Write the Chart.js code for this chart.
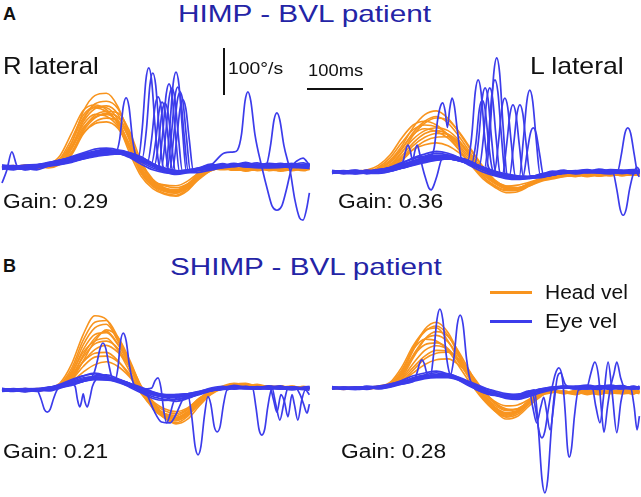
<!DOCTYPE html>
<html>
<head>
<meta charset="utf-8">
<script src="https://cdn.jsdelivr.net/npm/chart.js@4.4.0/dist/chart.umd.min.js"></script>
<style>
  html, body { margin: 0; padding: 0; background: #fff; }
  #fig { position: relative; width: 641px; height: 497px; overflow: hidden;
         font-family: "Liberation Sans", Arial, Helvetica, sans-serif; }
  #fig canvas { position: absolute; }
  .t { position: absolute; line-height: 1; white-space: nowrap; color: #111; transform-origin: 0 0; }
  .title { font-size: 24px; color: #2424a6; }
  .side { font-size: 24px; }
  .gain { font-size: 20px; transform: scaleX(1.14); }
  .scale { font-size: 17px; }
  .tag { font-size: 18px; font-weight: bold; }
  .bar { position: absolute; background: #111; }
  .key { position: absolute; height: 3px; width: 42px; }
</style>
</head>
<body>
<div id="fig">
  <canvas id="cTL" width="318" height="200" style="left:0px;top:40px"></canvas>
  <canvas id="cTR" width="315" height="200" style="left:326px;top:40px"></canvas>
  <canvas id="cBL" width="318" height="217" style="left:0px;top:280px"></canvas>
  <canvas id="cBR" width="315" height="217" style="left:326px;top:280px"></canvas>

  <div class="t tag" style="left:3px;top:5px">A</div>
  <div class="t title" style="left:178px;top:2px;transform:scaleX(1.24)">HIMP - BVL patient</div>
  <div class="t side" style="left:3px;top:54px;transform:scaleX(1.07)">R lateral</div>
  <div class="t side" style="left:530px;top:54px;transform:scaleX(1.11)">L lateral</div>
  <div class="t scale" style="left:228px;top:60px;transform:scaleX(1.14)">100°/s</div>
  <div class="t scale" style="left:308px;top:62px;transform:scaleX(1.08)">100ms</div>
  <div class="bar" style="left:223px;top:48px;width:2px;height:47px"></div>
  <div class="bar" style="left:307px;top:88px;width:56px;height:2px"></div>
  <div class="t gain" style="left:3px;top:191px">Gain: 0.29</div>
  <div class="t gain" style="left:338px;top:191px">Gain: 0.36</div>

  <div class="t tag" style="left:3px;top:257px">B</div>
  <div class="t title" style="left:170px;top:255px;transform:scaleX(1.235)">SHIMP - BVL patient</div>
  <div class="key" style="left:490px;top:291px;background:rgb(248,148,30)"></div>
  <div class="t gain" style="left:545px;top:282px;transform:scaleX(1.05)">Head vel</div>
  <div class="key" style="left:490px;top:320px;background:rgb(60,60,235)"></div>
  <div class="t gain" style="left:545px;top:311px;transform:scaleX(1.1)">Eye vel</div>
  <div class="t gain" style="left:3px;top:441px">Gain: 0.21</div>
  <div class="t gain" style="left:341px;top:441px">Gain: 0.28</div>
</div>

<script>
// time grid (ms) for the smooth traces
const tGrid = [0,20,40,60,80,100,120,140,160,180,200,220,240,260,280,300,320,340,360,380,400,420,440,460,480,500,520,530];

// head velocity (deg/s), one row per impulse
const headTL = [
  [2,-2,3,1,2,12,50,118,152,157,128,62,-12,-40,-52,-56,-40,-10,-2,3,-4,0,-5,-2,-6,-3,-5,-2],
  [-3,1,-1,4,0,8,40,100,134,140,124,70,0,-34,-48,-55,-44,-18,-4,-1,-7,-3,2,-8,-4,-1,-7,-4],
  [0,3,-2,2,5,18,60,110,128,126,100,40,-14,-42,-56,-60,-46,-20,-6,-2,-3,-9,-4,-1,-9,-5,-2,-6],
  [1,-1,2,-3,1,6,30,80,110,118,115,76,12,-26,-44,-50,-46,-26,-8,-3,-6,-2,-8,-4,0,-6,-3,-1],
  [-2,0,4,0,3,10,38,84,106,112,96,48,-4,-32,-45,-48,-38,-16,-5,0,-5,-6,-1,-7,-3,-8,-4,-5],
  [3,-3,0,2,-2,5,26,70,96,104,98,60,6,-28,-40,-44,-36,-18,-6,-4,-1,-5,-7,-3,-6,-2,-6,-3],
  [0,2,-1,-2,2,9,32,72,92,96,82,40,-6,-30,-38,-40,-30,-12,-3,-6,-4,-8,-3,-5,-1,-4,-8,-4],
  [-1,1,2,3,6,24,72,120,132,122,90,30,-20,-46,-58,-62,-50,-24,-8,-2,-7,-4,-2,-6,-8,-3,-1,-5],
  [1,-2,0,2,3,14,44,96,124,130,112,56,-8,-36,-50,-54,-42,-16,-4,1,-6,-3,-7,-1,-5,-2,-6,-3],
  [-2,2,1,-1,4,16,52,104,126,118,94,44,-10,-38,-50,-52,-40,-14,-2,-4,-3,-7,-2,-6,-4,-1,-5,-2],
  [0,-1,3,1,2,7,28,76,104,114,106,64,4,-30,-46,-50,-42,-22,-6,-1,-5,-2,-6,-3,-7,-4,-2,-5],
  [2,0,-2,1,5,13,42,90,112,108,86,38,-10,-36,-48,-50,-36,-14,-3,-2,-6,-4,-1,-5,-2,-6,-3,-4]
];
const headTR = [
  [0,-3,2,-1,8,25,55,95,122,130,114,82,45,10,-20,-35,-38,-30,-20,-15,-10,-8,-6,-9,-5,-8,-4,-6],
  [-2,1,-1,3,4,15,40,78,104,115,110,84,48,12,-16,-32,-36,-28,-18,-12,-9,-6,-10,-5,-7,-3,-6,-4],
  [1,-1,3,0,10,30,62,90,100,96,80,52,20,-10,-30,-40,-38,-26,-16,-12,-6,-10,-4,-8,-6,-2,-7,-5],
  [-1,2,0,-2,3,12,34,62,82,88,80,56,26,-4,-24,-34,-34,-24,-16,-10,-8,-5,-9,-4,-8,-5,-3,-6],
  [2,0,-2,1,2,8,24,48,66,74,75,60,34,6,-18,-30,-33,-26,-18,-12,-6,-9,-5,-7,-3,-8,-5,-4],
  [0,2,1,-1,5,14,30,48,58,62,56,40,18,-6,-22,-30,-28,-22,-14,-9,-7,-4,-8,-6,-4,-7,-2,-5],
  [-2,-1,2,4,14,36,72,100,108,100,78,46,14,-14,-32,-44,-42,-30,-18,-12,-8,-6,-4,-8,-5,-6,-3,-7],
  [1,0,-2,2,6,20,48,84,108,118,104,74,38,4,-22,-36,-38,-28,-18,-12,-8,-5,-9,-6,-4,-7,-5,-3],
  [-1,2,0,-1,4,16,42,70,88,94,88,66,34,2,-20,-32,-34,-26,-16,-10,-7,-9,-4,-6,-8,-3,-6,-5],
  [0,-2,1,3,7,22,50,80,92,86,72,46,16,-10,-28,-38,-36,-26,-14,-11,-5,-8,-6,-3,-7,-6,-4,-8],
  [2,-1,-1,0,3,10,28,56,74,82,80,62,30,0,-22,-34,-36,-26,-16,-10,-9,-6,-5,-8,-6,-4,-7,-3]
];
const headBL = [
  [1,-2,3,0,4,15,55,118,158,150,106,58,4,-40,-58,-62,-48,-22,-2,8,14,10,6,8,4,6,2,4],
  [-2,2,-1,3,2,10,40,96,132,140,104,56,6,-34,-60,-70,-56,-28,-6,6,12,14,8,5,9,3,6,2],
  [0,-1,2,-2,5,8,28,74,110,125,98,60,8,-28,-52,-64,-54,-30,-8,4,10,8,12,6,3,8,4,5],
  [2,0,-3,1,3,12,36,80,104,110,84,40,-6,-38,-56,-60,-46,-20,-4,6,9,12,5,9,6,2,7,3],
  [-1,1,2,-2,1,8,26,60,86,95,80,50,2,-30,-50,-58,-48,-24,-6,2,8,10,7,4,8,5,2,6],
  [1,-2,0,2,4,10,30,60,78,80,62,30,-8,-34,-50,-54,-42,-18,-3,5,11,7,9,3,6,8,4,2],
  [0,2,-1,1,2,6,18,38,54,60,50,28,-2,-24,-40,-46,-38,-18,-4,4,8,12,6,8,3,5,7,3],
  [-2,0,1,-1,3,6,22,62,104,128,112,64,8,-24,-56,-72,-62,-34,-10,3,10,6,10,7,5,2,8,4],
  [0,1,-2,2,3,12,46,106,144,148,112,60,4,-36,-58,-66,-52,-24,-4,5,12,8,10,6,7,4,5,3],
  [-1,2,0,-1,2,9,34,86,118,122,96,52,0,-34,-54,-62,-50,-26,-6,3,9,11,6,8,4,7,3,5],
  [1,-1,2,0,3,10,30,70,98,104,88,48,-2,-34,-52,-58,-46,-22,-4,4,10,6,9,5,8,3,6,4],
  [0,1,1,-2,2,7,22,50,70,72,60,34,-4,-28,-44,-50,-40,-18,-2,5,9,10,7,5,6,8,3,4]
];
const headBR = [
  [0,-3,2,-1,1,6,30,80,125,140,118,70,24,-16,-44,-58,-48,-26,-10,-6,-12,-8,-14,-9,-6,-12,-10,-8],
  [-2,1,-1,2,0,4,22,64,104,120,110,74,30,-10,-40,-56,-52,-32,-14,-8,-10,-14,-7,-12,-9,-5,-11,-7],
  [1,0,2,-2,3,10,38,82,104,100,80,44,8,-24,-48,-62,-56,-34,-16,-10,-6,-12,-9,-4,-10,-8,-13,-6],
  [-1,2,-2,0,-1,5,20,52,80,90,82,56,22,-12,-36,-48,-44,-28,-12,-4,-9,-6,-11,-8,-12,-6,-4,-9],
  [0,-1,1,2,1,3,14,38,62,74,76,60,30,-4,-30,-44,-46,-30,-14,-8,-12,-5,-8,-14,-7,-10,-6,-11],
  [2,0,-1,1,4,12,44,90,122,128,100,56,14,-22,-48,-66,-60,-38,-18,-6,-10,-8,-5,-10,-7,-3,-9,-12],
  [-2,1,0,-1,2,4,14,32,50,60,62,48,22,-6,-28,-38,-36,-24,-10,-6,-8,-11,-5,-9,-6,-10,-8,-4],
  [1,-2,1,0,2,8,34,86,120,132,112,66,20,-18,-46,-60,-52,-30,-12,-8,-9,-12,-6,-10,-8,-11,-7,-9],
  [-1,0,2,-1,1,6,26,70,104,112,98,64,24,-12,-40,-54,-50,-30,-14,-6,-11,-7,-10,-13,-6,-9,-12,-7],
  [0,1,-1,1,3,8,30,68,92,96,84,52,16,-16,-40,-52,-48,-28,-12,-7,-10,-9,-12,-6,-11,-8,-5,-10],
  [2,-1,0,-2,1,4,18,44,68,80,78,58,26,-8,-32,-46,-44,-28,-12,-6,-9,-13,-8,-5,-10,-12,-8,-6]
];

// eye velocity (deg/s), impulses without catch-up saccades
const eyeTL = [
  [0,3,-4,2,6,10,18,26,32,36,34,28,18,4,-8,-12,-8,-2,4,2,6,0,5,3,8,2,6,4],
  [-3,-6,0,-2,3,8,14,22,28,30,32,26,14,2,-6,-14,-10,-4,2,7,1,4,9,1,4,7,0,5],
  [2,-2,-5,4,8,14,22,30,38,40,36,22,10,-2,-10,-16,-12,-6,0,5,3,8,2,6,0,5,9,2],
  [-5,0,-3,-6,2,6,12,18,24,26,28,24,16,6,-4,-8,-10,-6,0,3,8,2,4,8,5,1,4,6],
  [1,-4,2,0,4,12,20,28,34,38,30,20,6,-6,-12,-14,-8,-2,6,1,4,10,3,0,6,3,2,8]
];
const eyeTR = [
  [0,3,-2,4,0,6,14,24,32,36,34,28,18,8,-2,-6,-10,-12,-8,-4,0,3,-2,4,1,-3,2,0],
  [-3,1,4,-2,2,4,10,18,26,30,32,28,20,10,0,-8,-14,-14,-10,-6,-2,2,5,-1,3,0,-4,3],
  [2,-4,0,3,-1,8,18,30,38,44,40,30,16,4,-6,-10,-12,-10,-6,2,-3,0,4,-2,-4,2,5,-1],
  [-1,2,-3,0,4,2,8,16,22,26,28,24,18,10,2,-4,-8,-10,-12,-6,-1,-4,0,6,2,-2,1,4],
  [1,-1,2,-4,3,10,20,28,34,40,36,26,12,0,-8,-14,-16,-12,-4,0,4,-3,2,0,5,3,-2,-3]
];
const eyeBL = [
  [0,-3,2,-1,4,10,18,26,28,24,16,8,-2,-10,-14,-16,-12,-6,0,4,6,3,7,5,2,6,4,3],
  [3,0,-4,2,0,6,14,22,30,32,24,14,4,-6,-16,-20,-16,-10,-2,6,8,4,2,8,5,0,6,8],
  [-2,2,0,-3,2,8,20,30,36,30,20,10,-4,-14,-20,-24,-18,-8,2,4,10,6,4,2,7,4,1,5],
  [1,-2,3,0,-2,4,12,18,24,26,22,14,6,-4,-10,-12,-10,-4,4,8,2,7,5,9,3,6,2,-1],
  [0,3,-1,2,5,12,22,30,34,28,18,6,-6,-18,-22,-20,-14,-6,0,2,5,8,3,6,9,2,5,7]
];
const eyeBR = [
  [0,2,-3,1,0,4,10,18,24,28,26,18,8,-2,-10,-16,-18,-12,-6,0,3,-2,4,1,-3,2,0,3],
  [-2,1,2,-1,3,6,12,22,28,32,28,20,10,-2,-12,-20,-22,-16,-8,-2,2,4,0,-3,3,5,-1,2],
  [1,-3,0,2,-2,2,8,14,20,22,22,16,8,0,-6,-12,-14,-10,-4,2,-1,3,6,2,0,-2,4,1],
  [3,0,-2,4,1,8,16,26,32,36,30,22,12,2,-8,-18,-20,-14,-4,1,4,0,-2,5,2,-1,3,-2],
  [-1,2,1,-3,2,3,10,16,22,26,24,18,6,-4,-14,-22,-24,-18,-10,-4,0,2,-1,3,6,1,-2,4]
];

// eye velocity with catch-up saccades, [ms, deg/s] pairs
const saccTL = [
  [[0,-2],[40,3],[80,6],[120,14],[160,28],[185,34],[196,32],[203,60],[209,128],[214,147],[219,128],[225,60],[232,20],[250,8],[280,-8],[320,-8],[370,2],[430,5],[490,0],[530,4]],
  [[0,2],[40,-4],[80,8],[120,16],[160,26],[200,30],[225,22],[235,18],[242,85],[248,184],[253,211],[258,184],[264,85],[271,4],[290,-10],[330,-4],[390,3],[450,6],[500,-1],[530,2]],
  [[0,-4],[40,0],[80,10],[120,20],[160,32],[200,36],[230,26],[242,20],[249,80],[255,174],[260,200],[265,174],[271,80],[278,0],[300,-12],[340,-6],[400,4],[460,0],[530,5]],
  [[0,4],[40,1],[80,4],[120,12],[160,22],[200,28],[235,16],[251,10],[258,60],[264,130],[269,149],[274,130],[280,60],[287,-4],[310,-10],[360,0],[420,6],[480,2],[530,-2]],
  [[0,-1],[40,-5],[80,6],[120,18],[160,28],[200,30],[240,18],[258,8],[265,55],[271,120],[276,138],[281,120],[287,55],[294,-6],[320,-10],[370,2],[440,3],[500,7],[530,1]],
  [[0,3],[40,-2],[80,2],[120,10],[160,24],[200,32],[240,16],[263,4],[270,54],[276,118],[281,136],[286,118],[292,54],[299,-8],[330,-6],[380,4],[450,-2],[530,3]],
  [[0,-3],[40,2],[80,8],[120,18],[160,30],[200,34],[240,22],[270,0],[277,71],[283,154],[288,177],[293,154],[299,71],[306,-10],[330,-12],[380,-2],[440,4],[500,2],[530,6]],
  [[0,1],[40,-3],[80,5],[120,14],[160,26],[200,28],[240,16],[275,-2],[282,67],[288,146],[293,168],[298,146],[304,67],[311,-8],[340,-6],[400,2],[460,5],[530,0]],
  [[0,-2],[40,4],[80,7],[120,16],[160,28],[200,32],[240,20],[282,-4],[289,81],[295,176],[300,202],[305,176],[311,81],[318,-10],[350,-4],[410,3],[470,-1],[530,4]],
  [[0,2],[40,0],[80,4],[120,12],[160,24],[200,30],[240,18],[285,-4],[292,68],[298,148],[303,170],[308,148],[314,68],[321,-8],[350,-2],[420,5],[480,1],[530,-3]],
  [[0,0],[40,-4],[80,9],[120,20],[160,30],[200,34],[240,20],[289,-6],[296,64],[302,139],[307,160],[312,139],[318,64],[325,-10],[360,0],[420,2],[480,6],[530,2]],
  [[0,-3],[40,2],[80,6],[120,14],[160,26],[200,30],[240,16],[294,-6],[301,57],[307,124],[312,143],[317,124],[323,57],[330,-8],[360,-4],[420,4],[490,0],[530,3]],
  [[0,-34],[8,-8],[17,32],[26,2],[40,-6],[80,4],[120,14],[160,26],[200,30],[240,16],[280,-8],[320,-10],[360,4],[384,30],[400,32],[406,36],[413,70],[419,140],[424,160],[429,140],[436,70],[448,0],[458,-50],[466,-84],[474,-92],[482,-84],[490,-50],[500,0],[510,14],[519,19],[530,4]],
  [[0,3],[40,-2],[80,6],[120,16],[160,28],[200,32],[240,18],[280,-6],[320,-8],[360,2],[400,4],[440,2],[456,6],[463,46],[469,100],[474,115],[479,100],[486,46],[497,-10],[505,-70],[513,-108],[519,-113],[525,-90],[530,-55]]
];
const saccTR = [
  [[0,2],[40,-3],[80,4],[110,8],[122,20],[127,45],[131,57],[135,45],[139,24],[143,45],[147,57],[151,40],[156,10],[163,-20],[167,-34],[171,-38],[175,-30],[181,-8],[190,28],[220,30],[260,8],[300,-10],[350,-12],[400,0],[460,3],[530,-2]],
  [[0,-2],[40,2],[80,0],[120,12],[150,24],[168,30],[176,50],[182,110],[187,140],[191,147],[195,130],[199,95],[203,135],[207,157],[211,140],[216,90],[224,24],[240,18],[270,0],[310,-12],[360,-10],[420,2],[480,-2],[530,3]],
  [[0,3],[40,-1],[80,5],[120,14],[160,28],[200,34],[225,24],[234,22],[241,78],[247,170],[252,196],[257,170],[263,78],[270,10],[290,-8],[330,-14],[380,-4],[440,2],[500,-3],[530,1]],
  [[0,-3],[40,2],[80,-1],[120,10],[160,24],[200,30],[230,22],[241,18],[248,61],[254,133],[259,153],[264,133],[270,61],[277,4],[300,-10],[340,-12],[390,0],[450,3],[510,-2],[530,2]],
  [[0,1],[40,-4],[80,3],[120,16],[160,30],[200,36],[230,26],[246,16],[253,72],[259,156],[264,179],[269,156],[275,72],[282,0],[310,-12],[350,-10],[400,2],[460,-1],[530,3]],
  [[0,-1],[40,3],[80,2],[120,12],[160,26],[200,32],[240,20],[254,12],[261,72],[267,156],[272,179],[277,156],[283,72],[290,-4],[320,-14],[370,-6],[430,3],[490,0],[530,-2]],
  [[0,2],[40,0],[80,-2],[120,8],[160,22],[200,30],[240,18],[263,8],[270,78],[276,170],[281,196],[286,170],[292,78],[299,-6],[330,-12],[380,-4],[440,1],[500,4],[530,0]],
  [[0,-2],[40,1],[80,4],[120,14],[160,28],[200,34],[240,22],[266,6],[273,97],[279,211],[284,243],[289,211],[295,97],[302,-6],[330,-14],[380,-6],[440,2],[500,-2],[530,2]],
  [[0,0],[40,-3],[80,5],[120,12],[160,24],[200,28],[240,16],[280,0],[287,63],[293,137],[298,157],[303,137],[309,63],[316,-8],[350,-12],[400,-2],[460,3],[530,-1]],
  [[0,3],[40,-2],[80,1],[120,10],[160,22],[200,30],[240,18],[280,2],[294,-4],[301,57],[307,124],[312,143],[317,124],[323,57],[330,-10],[360,-10],[410,0],[470,2],[530,-3]],
  [[0,-2],[40,2],[80,3],[120,14],[160,26],[200,32],[240,20],[280,0],[306,-8],[313,57],[319,124],[324,143],[329,124],[335,57],[342,-8],[370,-8],[420,2],[480,-1],[530,2]],
  [[0,1],[40,-1],[80,-3],[120,8],[160,20],[200,28],[240,16],[280,-2],[323,-10],[330,70],[336,151],[341,174],[346,151],[352,70],[359,-6],[390,-4],[450,2],[530,0]],
  [[0,-1],[40,2],[80,4],[120,12],[160,26],[200,30],[240,18],[280,-4],[329,-12],[336,38],[342,82],[347,94],[352,82],[358,38],[365,-8],[400,-2],[460,3],[530,1]],
  [[0,2],[40,-2],[80,3],[120,12],[160,26],[200,32],[240,20],[280,0],[320,-10],[360,-8],[400,2],[450,-2],[492,0],[499,38],[505,82],[510,94],[515,82],[521,38],[527,-4],[530,-10]],
  [[0,-2],[40,3],[80,1],[120,10],[160,22],[200,28],[240,16],[280,-4],[320,-12],[360,-6],[400,0],[450,3],[484,0],[491,-37],[497,-80],[502,-92],[507,-80],[513,-37],[520,-2],[526,10],[530,4]]
];
const saccBL = [
  [[0,2],[40,-2],[80,4],[120,14],[150,24],[158,34],[164,60],[169,88],[174,100],[179,88],[184,55],[190,25],[195,21],[200,48],[204,100],[209,121],[214,105],[220,50],[228,10],[250,-6],[280,-14],[320,-10],[370,0],[420,5],[480,3],[530,6]],
  [[0,-2],[40,2],[60,0],[67,-18],[73,-41],[78,-47],[83,-41],[89,-18],[96,2],[120,14],[160,26],[200,20],[240,2],[280,-14],[320,-10],[370,2],[430,6],[490,3],[530,5]],
  [[0,3],[40,-1],[80,5],[120,12],[126,8],[130,-20],[134,-36],[137,-25],[140,-8],[143,-25],[147,-36],[151,-20],[156,8],[170,28],[200,22],[240,4],[280,-12],[320,-8],[370,2],[430,4],[490,6],[530,2]],
  [[0,-1],[40,3],[80,2],[120,12],[160,24],[200,18],[240,2],[258,4],[264,20],[269,26],[274,5],[279,-45],[284,-70],[289,-55],[296,-25],[305,-14],[330,-8],[380,2],[440,5],[500,2],[530,4]],
  [[0,2],[40,-3],[80,4],[120,16],[160,28],[200,22],[230,8],[250,-10],[262,-44],[275,-68],[290,-70],[300,-52],[312,-20],[330,-10],[380,4],[440,2],[500,6],[530,3]],
  [[0,1],[40,-2],[80,6],[120,14],[160,26],[200,20],[240,0],[280,-12],[320,-8],[327,-55],[333,-120],[338,-138],[343,-120],[349,-55],[355,-14],[360,-30],[366,-78],[371,-89],[376,-78],[382,-30],[388,0],[420,6],[480,3],[530,5]],
  [[0,-2],[40,1],[80,3],[120,10],[160,24],[200,20],[240,2],[280,-12],[320,-10],[370,2],[420,6],[432,4],[438,-38],[443,-83],[448,-96],[453,-83],[458,-38],[465,2],[490,6],[530,4]],
  [[0,3],[40,0],[80,2],[120,12],[160,22],[200,18],[240,0],[280,-14],[320,-8],[370,4],[420,5],[462,4],[468,-20],[474,-47],[481,-10],[487,-25],[493,-57],[500,-10],[504,-30],[510,-64],[517,-20],[523,0],[530,-10]],
  [[0,-3],[40,2],[80,5],[120,14],[160,26],[200,20],[240,4],[280,-10],[320,-10],[370,0],[420,4],[465,6],[472,-30],[479,-64],[486,-28],[493,4],[505,6],[514,-10],[520,-30],[526,-49],[530,-30]]
];
const saccBR = [
  [[0,2],[40,-2],[80,3],[110,8],[140,14],[146,30],[151,52],[155,60],[159,52],[164,30],[170,26],[175,70],[181,146],[186,168],[191,146],[197,70],[204,28],[220,20],[250,-4],[290,-16],[330,-12],[380,2],[440,-2],[500,3],[530,0]],
  [[0,-2],[40,1],[80,-1],[120,10],[160,22],[190,28],[203,24],[210,62],[216,135],[221,155],[226,135],[232,62],[239,14],[260,-6],[300,-20],[340,-10],[390,2],[450,0],[530,-2]],
  [[0,1],[40,-3],[80,2],[120,12],[160,24],[200,26],[240,4],[280,-14],[320,-16],[349,-4],[356,-90],[362,-194],[367,-223],[372,-194],[378,-90],[385,-4],[400,4],[450,-2],[500,3],[530,-1]],
  [[0,-1],[40,2],[80,4],[120,14],[160,26],[200,28],[240,6],[280,-12],[320,-18],[345,-6],[351,-45],[357,-92],[362,-106],[367,-92],[373,-45],[379,-2],[385,30],[391,43],[397,22],[402,-50],[406,-128],[409,-147],[413,-128],[418,-60],[425,-4],[460,2],[530,1]],
  [[0,2],[40,-1],[80,0],[120,10],[160,22],[200,24],[240,2],[280,-16],[320,-14],[340,-6],[346,-40],[353,-74],[360,-40],[365,-20],[370,-50],[376,-89],[382,-40],[388,20],[394,32],[402,8],[420,-2],[470,2],[530,-2]],
  [[0,-2],[40,1],[80,3],[120,12],[160,24],[200,30],[240,6],[280,-14],[320,-18],[360,-4],[400,2],[440,4],[446,30],[453,55],[460,20],[464,-40],[469,-94],[475,-40],[480,0],[486,30],[491,55],[498,20],[505,0],[530,2]],
  [[0,1],[40,-2],[80,2],[120,10],[160,22],[200,26],[240,4],[280,-12],[320,-14],[360,-2],[420,2],[448,4],[455,-40],[462,-74],[469,-10],[476,55],[483,-10],[491,-95],[498,-30],[505,2],[515,0],[521,-40],[526,-89],[530,-60]]
];

const headColor = "rgb(248, 148, 30)";
const eyeColor = "rgb(60, 60, 235)";
const pxPerMs = 0.58;   // 100 ms scale bar
const pxPerDeg = 0.47;  // 100 deg/s scale bar

const panels = [
  { id: "cTL", left: 0, top: 40, w: 318, h: 200, x0: 2, base: 167, head: headTL, eye: eyeTL, sacc: saccTL },
  { id: "cTR", left: 326, top: 40, w: 315, h: 200, x0: 332, base: 172, head: headTR, eye: eyeTR, sacc: saccTR },
  { id: "cBL", left: 0, top: 280, w: 318, h: 217, x0: 2, base: 390, head: headBL, eye: eyeBL, sacc: saccBL },
  { id: "cBR", left: 326, top: 280, w: 315, h: 217, x0: 332, base: 388, head: headBR, eye: eyeBR, sacc: saccBR }
];

const gridSeries = (row) => tGrid.map((t, i) => ({ x: t, y: row[i] }));
const pairSeries = (pairs) => pairs.map((p) => ({ x: p[0], y: p[1] }));

panels.forEach((p) => {
  const datasets = [];
  // first dataset is drawn on top, so saccades go first and head traces last
  p.sacc.forEach((tr) => datasets.push({ data: pairSeries(tr), borderColor: eyeColor, borderWidth: 1.7 }));
  p.eye.forEach((row) => datasets.push({ data: gridSeries(row), borderColor: eyeColor, borderWidth: 1.7 }));
  p.head.forEach((row) => datasets.push({ data: gridSeries(row), borderColor: headColor, borderWidth: 1.6 }));

  const xMin = (p.left - p.x0) / pxPerMs;
  const yMax = (p.base - p.top) / pxPerDeg;

  new Chart(document.getElementById(p.id), {
    type: "line",
    data: { datasets: datasets },
    options: {
      responsive: false,
      animation: false,
      events: [],
      layout: { padding: 0 },
      plugins: { legend: { display: false }, tooltip: { enabled: false } },
      elements: {
        point: { radius: 0 },
        line: { cubicInterpolationMode: "monotone", fill: false }
      },
      scales: {
        x: { type: "linear", display: false, min: xMin, max: xMin + p.w / pxPerMs },
        y: { type: "linear", display: false, min: yMax - p.h / pxPerDeg, max: yMax }
      }
    }
  });
});
</script>
</body>
</html>
